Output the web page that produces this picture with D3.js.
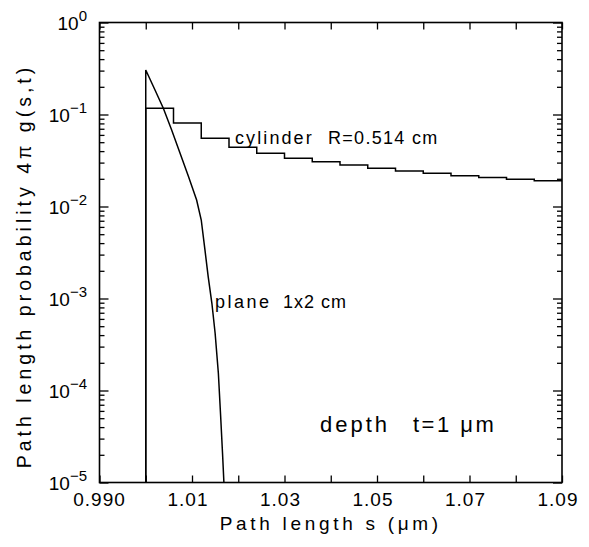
<!DOCTYPE html>
<html>
<head>
<meta charset="utf-8">
<script src="https://cdn.jsdelivr.net/npm/d3@7"></script>
<style>
    body { margin: 0; background: #fff; }
    svg { display: block; }
    text { font-family: "Liberation Sans", "DejaVu Sans", sans-serif; fill: #000; }
</style>
</head>
<body>
<div id="chart"></div>
<script>
// x ticks (every 0.01) and the labelled ones
const xTicks = [0.99, 1.00, 1.01, 1.02, 1.03, 1.04, 1.05, 1.06, 1.07, 1.08, 1.09];
const xLabelVals = [0.99, 1.01, 1.03, 1.05, 1.07, 1.09];
const xLabelText = ["0.990", "1.01", "1.03", "1.05", "1.07", "1.09"];

// y decades (exponents of 10)
const yExponents = [0, -1, -2, -3, -4, -5];
const yExpText = ["0", "\u22121", "\u22122", "\u22123", "\u22124", "\u22125"];

// cylinder R=0.514 cm : histogram, bin edges and heights
const cylEdges = [1.000, 1.006, 1.012, 1.018, 1.024, 1.030, 1.036, 1.042, 1.048,
                  1.054, 1.060, 1.066, 1.072, 1.078, 1.084, 1.090];
const cylValues = [0.1168, 0.0808, 0.0551, 0.0440, 0.0379, 0.0334, 0.0307, 0.0283,
                   0.0260, 0.0243, 0.0230, 0.0216, 0.0206, 0.0198, 0.0191];

// plane 1x2 cm
const planeS = [1.0000, 1.0000, 1.0020, 1.0038, 1.0056, 1.0074, 1.0092, 1.0110, 1.0120,
                1.0128, 1.0135, 1.0143, 1.0150, 1.0157, 1.0162, 1.0166, 1.0169];
const planeP = [1e-5, 0.305, 0.1846, 0.1168, 0.0679, 0.0382, 0.02145, 0.01177, 0.00713,
                0.00337, 0.001725, 0.000887, 0.000419, 0.000154, 5.19e-5, 2.08e-5, 1.0e-5];

let width = 589;
let height = 547;
let plotLeft = 99.5, plotRight = 562, plotTop = 22.5, plotBottom = 482.5;

let svg = d3.select("#chart")
    .append("svg")
    .attr("width", width)
    .attr("height", height);

let xScale = d3.scaleLinear().domain([0.99, 1.09]).range([plotLeft, plotRight]);
let yScale = d3.scaleLog().domain([1e-5, 1]).range([plotBottom, plotTop]);

// minor y ticks: 2..9 in each decade
let yMinor = [];
for (let e = -5; e < 0; e++) {
    for (let m = 2; m <= 9; m++) yMinor.push(m * Math.pow(10, e));
}
let yMajor = yExponents.map(e => Math.pow(10, e));

// Axes (ticks point inward, labels drawn separately)
svg.append("g")
    .attr("transform", `translate(0,${plotBottom})`)
    .call(d3.axisBottom(xScale).tickValues(xTicks).tickSize(-7).tickFormat(""));
svg.append("g")
    .attr("transform", `translate(0,${plotTop})`)
    .call(d3.axisTop(xScale).tickValues(xTicks).tickSize(-7).tickFormat(""));
svg.append("g")
    .attr("transform", `translate(${plotLeft},0)`)
    .call(d3.axisLeft(yScale).tickValues(yMajor).tickSize(-9).tickFormat(""));
svg.append("g")
    .attr("transform", `translate(${plotLeft},0)`)
    .call(d3.axisLeft(yScale).tickValues(yMinor).tickSize(-5).tickFormat(""));
svg.append("g")
    .attr("transform", `translate(${plotRight},0)`)
    .call(d3.axisRight(yScale).tickValues(yMajor).tickSize(-9).tickFormat(""));
svg.append("g")
    .attr("transform", `translate(${plotRight},0)`)
    .call(d3.axisRight(yScale).tickValues(yMinor).tickSize(-5).tickFormat(""));

svg.selectAll(".domain").remove();
svg.selectAll(".tick line").attr("stroke", "#000").attr("stroke-width", 1.3);

// frame
svg.append("rect")
    .attr("x", plotLeft).attr("y", plotTop)
    .attr("width", plotRight - plotLeft).attr("height", plotBottom - plotTop)
    .attr("fill", "none").attr("stroke", "#000").attr("stroke-width", 1.6);

// x tick labels
svg.append("g").selectAll("text")
    .data(xLabelVals)
    .enter().append("text")
    .attr("x", (d, i) => xScale(d) + (i == 0 ? 0 : -4))
    .attr("y", plotBottom + 23)
    .attr("text-anchor", "middle")
    .attr("font-size", 19)
    .attr("letter-spacing", 1)
    .text((d, i) => xLabelText[i]);

// y tick labels 10^n
let yl = svg.append("g").selectAll("text")
    .data(yExponents)
    .enter().append("text")
    .attr("x", 87)
    .attr("y", d => yScale(Math.pow(10, d)) + 7)
    .attr("text-anchor", "end")
    .attr("font-size", 19);
yl.append("tspan").text("10");
yl.append("tspan").attr("dy", -9).attr("font-size", 15).text((d, i) => yExpText[i]);

// clip to the plot area
svg.append("clipPath").attr("id", "clip")
    .append("rect").attr("x", plotLeft).attr("y", plotTop)
    .attr("width", plotRight - plotLeft).attr("height", plotBottom - plotTop);

let plot = svg.append("g").attr("clip-path", "url(#clip)");

// cylinder histogram
let cylPts = [[cylEdges[0], 1e-5]];
for (let i = 0; i < cylValues.length; i++) cylPts.push([cylEdges[i], cylValues[i]]);
cylPts.push([cylEdges[cylEdges.length - 1], cylValues[cylValues.length - 1]]);

plot.append("path")
    .datum(cylPts)
    .attr("fill", "none")
    .attr("stroke", "#000")
    .attr("stroke-width", 1.5)
    .attr("d", d3.line()
        .x(d => xScale(d[0]))
        .y(d => yScale(d[1]))
        .curve(d3.curveStepAfter));

// plane curve
plot.append("path")
    .datum(planeS.map((s, i) => [s, planeP[i]]))
    .attr("fill", "none")
    .attr("stroke", "#000")
    .attr("stroke-width", 1.5)
    .attr("d", d3.line()
        .x(d => xScale(d[0]))
        .y(d => yScale(d[1])));

// labels on the chart
function label(x, y, str, size, spacing) {
    svg.append("text")
        .attr("x", x).attr("y", y)
        .attr("font-size", size)
        .attr("letter-spacing", spacing)
        .text(str);
}
label(235, 144, "cylinder", 18, 2.1);
label(328, 144, "R=0.514 cm", 18, 1.3);
label(215, 308, "plane", 18, 2.5);
label(283, 308, "1x2 cm", 18, 1);
label(320, 432, "depth", 22, 3);
label(413, 432, "t=1 \u03bcm", 22, 2.5);

// axis titles
svg.append("text")
    .attr("x", (plotLeft + plotRight) / 2)
    .attr("y", 530)
    .attr("text-anchor", "middle")
    .attr("font-size", 19)
    .attr("letter-spacing", 3.7)
    .text("Path length s (\u03bcm)");

svg.append("text")
    .attr("transform", "translate(31,266) rotate(-90)")
    .attr("text-anchor", "middle")
    .attr("font-size", 19.5)
    .attr("letter-spacing", 4)
    .text("Path length probability 4\u03c0 g(s,t)");
</script>
</body>
</html>
